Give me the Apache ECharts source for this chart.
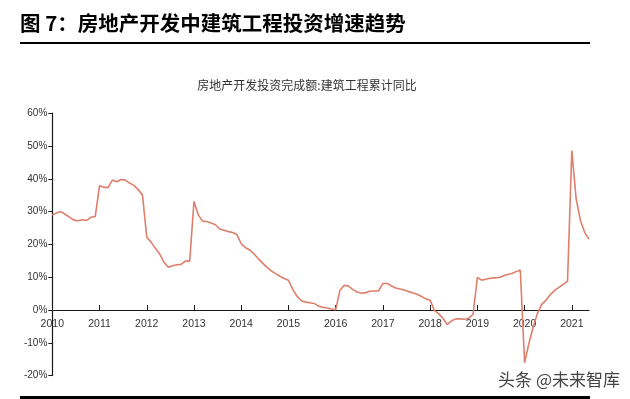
<!DOCTYPE html>
<html>
<head>
<meta charset="utf-8">
<script src="https://cdn.jsdelivr.net/npm/echarts@6/dist/echarts.min.js"></script>
<style>
html,body{margin:0;padding:0;background:#fff;}
#c{width:630px;height:399px;}
</style>
</head>
<body>
<div id="c"></div>
<script>
// ---- data ----
const years = ['2010','2011','2012','2013','2014','2015','2016','2017','2018','2019','2020','2021'];
const months = ['02','03','04','05','06','07','08','09','10','11','12'];
const v2010 = [29.0, 29.6, 30.0, 29.2, 28.3, 27.4, 27.2, 27.5, 27.3, 28.3, 28.5];
const v2011 = [37.9, 37.4, 37.4, 39.6, 39.1, 39.8, 39.6, 38.7, 38.0, 36.7, 35.1];
const v2012 = [22.2, 20.7, 18.8, 17.1, 14.6, 13.0, 13.5, 13.8, 13.9, 14.9, 14.9];
const v2013 = [33.1, 29.0, 27.1, 27.0, 26.5, 26.0, 24.7, 24.3, 23.9, 23.6, 23.0];
const v2014 = [20.2, 19.0, 18.3, 17.1, 15.6, 14.3, 13.0, 11.9, 11.1, 10.3, 9.6];
const v2015 = [9.1, 6.3, 4.2, 2.8, 2.4, 2.2, 2.0, 1.2, 0.8, 0.6, 0.3];
const v2016 = [0.1, 6.0, 7.5, 7.3, 6.2, 5.5, 5.1, 5.3, 5.7, 5.8, 5.8];
const v2017 = [8.1, 8.1, 7.3, 6.7, 6.4, 6.1, 5.6, 5.2, 4.8, 4.1, 3.4];
const v2018 = [3.0, -0.2, -1.1, -2.6, -4.4, -3.3, -2.7, -2.7, -2.8, -2.5, -1.3];
const v2019 = [9.9, 9.1, 9.4, 9.7, 9.8, 9.9, 10.4, 10.8, 11.1, 11.7, 12.2];
const v2020 = [-16.1, -10.2, -5.2, -1.0, 1.7, 3.0, 4.7, 6.0, 6.9, 7.8, 8.8];
const v2021 = [48.6, 34.0, 27.3, 23.6, 21.6];
const yTicks = [-20, -10, 0, 10, 20, 30, 40, 50, 60];

const mainTitle = '图 7：房地产开发中建筑工程投资增速趋势';
const chartTitle = '房地产开发投资完成额:建筑工程累计同比';
const watermark = '头条 @未来智库';

// ---- build ----
const yearValues = [v2010, v2011, v2012, v2013, v2014, v2015, v2016, v2017, v2018, v2019, v2020, v2021];
const categories = [];
const values = [];
yearValues.forEach((arr, yi) => {
  arr.forEach((v, mi) => {
    categories.push(years[yi] + '-' + months[mi]);
    values.push(v);
  });
});
const perYear = months.length;
const yMin = yTicks[0], yMax = yTicks[yTicks.length - 1];

const gridTop = 113.2, gridBottom = 23.4, H = 399;
const plotH = H - gridTop - gridBottom;
// distance from bottom of plot to the zero line (so labels sit under the zero line)
const zeroLift = plotH * (0 - yMin) / (yMax - yMin);

const chart = echarts.init(document.getElementById('c'), null, {renderer: 'canvas'});
const cjk = '"Noto Sans CJK SC", "Noto Sans", sans-serif';
const lat = '"Liberation Sans", Arial, sans-serif';
const isYearStart = (i) => i % perYear === 0;

chart.setOption({
  animation: false,
  backgroundColor: '#fff',
  grid: {left: 52.3, right: 41, top: gridTop, bottom: gridBottom, containLabel: false},
  xAxis: [{
    type: 'category',
    data: categories,
    boundaryGap: false,
    axisLine: {onZero: true, lineStyle: {color: '#1a1a1a', width: 1.2}},
    axisTick: {inside: true, length: 5, interval: isYearStart, lineStyle: {color: '#1a1a1a'}},
    axisLabel: {show: false},
    splitLine: {show: false}
  }, {
    type: 'category',
    data: categories,
    boundaryGap: false,
    position: 'bottom',
    offset: -zeroLift,
    axisLine: {show: false, onZero: false},
    axisTick: {show: false},
    axisLabel: {
      interval: isYearStart,
      formatter: (v) => v.slice(0, 4),
      color: '#333', fontFamily: lat, fontSize: 10.5, margin: 9
    },
    splitLine: {show: false}
  }],
  yAxis: {
    type: 'value',
    min: yMin, max: yMax, interval: 10,
    axisLine: {show: true, lineStyle: {color: '#1a1a1a', width: 1.2}},
    axisTick: {show: true, length: 4, lineStyle: {color: '#1a1a1a'}},
    axisLabel: {formatter: '{value}%', color: '#333', fontFamily: lat, fontSize: 10, margin: 5},
    splitLine: {show: false}
  },
  series: [{
    type: 'line',
    xAxisIndex: 0,
    data: values,
    showSymbol: false,
    symbol: 'none',
    lineStyle: {color: '#DE7F6B', width: 1.6},
    itemStyle: {color: '#DE7F6B'}
  }],
  graphic: [
    {type: 'text', left: 20, top: 13,
     style: {text: mainTitle, font: 'bold 20.5px ' + cjk, fill: '#000'}},
    {type: 'rect', shape: {x: 20, y: 42, width: 570, height: 2}, style: {fill: '#000'}},
    {type: 'text', x: 307, y: 85,
     style: {text: chartTitle, font: '12px ' + cjk, fill: '#333', textAlign: 'center', textVerticalAlign: 'middle'}},
    {type: 'text', x: 620, y: 380,
     style: {text: watermark, font: '17px ' + cjk, fill: '#444', textAlign: 'right', textVerticalAlign: 'middle'}},
    {type: 'rect', shape: {x: 20, y: 396, width: 570, height: 3}, style: {fill: '#000'}}
  ]
});
</script>
</body>
</html>
